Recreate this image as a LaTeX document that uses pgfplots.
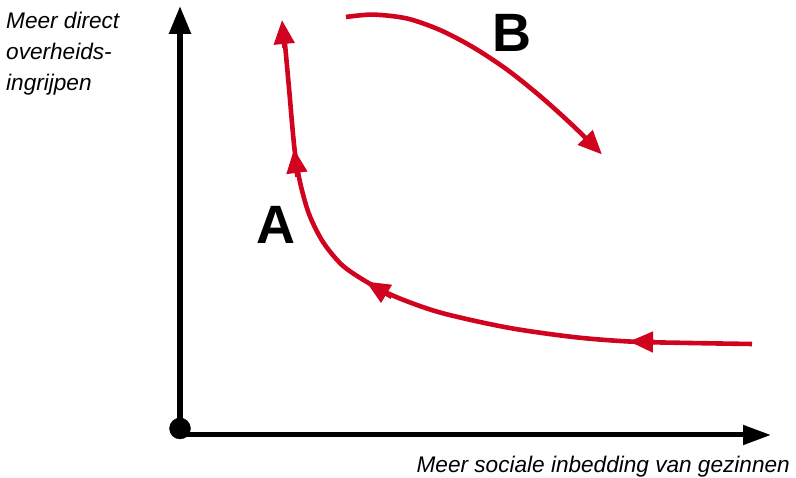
\documentclass[border=0pt]{standalone}
\usepackage{pgfplots}
\pgfplotsset{compat=1.18}
\usepackage{fontspec}
\setmainfont{Liberation Sans}
\usetikzlibrary{arrows.meta}
\definecolor{cred}{RGB}{208,4,30}
\begin{document}
\begin{tikzpicture}
\begin{axis}[
  width=796pt, height=478pt, scale only axis,
  xmin=0, xmax=796, ymin=0, ymax=478,
  hide axis, clip=false,
]
\path (axis cs:0,0) rectangle (axis cs:796,478);
% axes
\addplot[black, line width=5.5pt, no markers, -{Triangle[length=28pt,width=21pt]}] coordinates {(180,43) (180,472)};
\addplot[black, line width=5pt, no markers, -{Triangle[length=28pt,width=19pt]}] coordinates {(180,43) (771,43)};
\addplot[only marks, mark=*, mark size=10.5pt, black] coordinates {(180,49.5)};
% curve A (one smooth line)
\addplot[cred, line width=4.6pt, no markers, smooth, tension=0.5] coordinates {
 (752,134) (690,135) (629,136.5) (573,141) (507,150.5) (440,165.5) (395,181.5)
 (366,196.5) (342,213) (323,236) (309,264) (300,296) (294.5,329) (289,390) (284,445)};
% arrowheads on curve A
\addplot[cred, line width=4.6pt, no markers, -{Triangle[length=24pt,width=20pt]}] coordinates {(655,136) (629,136.5)};
\addplot[cred, line width=4.6pt, no markers, -{Triangle[length=24pt,width=20pt]}] coordinates {(391.7,181) (366,196.5)};
\addplot[cred, line width=4.6pt, no markers, -{Triangle[length=24pt,width=20pt]}] coordinates {(297.4,301.2) (294,329)};
\addplot[cred, line width=4.6pt, no markers, -{Triangle[length=24pt,width=20pt]}] coordinates {(284.6,430) (282,458)};
% curve B
\addplot[cred, line width=4.6pt, no markers, smooth, tension=0.5, -{Triangle[length=24pt,width=20pt]}] coordinates {
 (346,461) (373,463.4) (407,459.5) (440,448) (473,430.8) (507,408.4) (540,382) (573,352.3) (602,323.5)};
% labels
\node[anchor=center, inner sep=0pt, font=\fontsize{54}{60}\selectfont\bfseries] at (axis cs:276,253) {A};
\node[anchor=center, inner sep=0pt, font=\fontsize{54}{60}\selectfont\bfseries] at (axis cs:512,445.5) {B};
\node[anchor=base west, inner sep=0pt, font=\fontsize{22.6}{30}\selectfont\itshape] at (axis cs:6,449) {Meer direct};
\node[anchor=base west, inner sep=0pt, font=\fontsize{22.6}{30}\selectfont\itshape] at (axis cs:6,418) {overheids-};
\node[anchor=base west, inner sep=0pt, font=\fontsize{22.6}{30}\selectfont\itshape] at (axis cs:6,387.5) {ingrijpen};
\node[anchor=base east, inner sep=0pt, font=\fontsize{22.6}{30}\selectfont\itshape] at (axis cs:790,5) {Meer sociale inbedding van gezinnen};
\end{axis}
\end{tikzpicture}
\end{document}
